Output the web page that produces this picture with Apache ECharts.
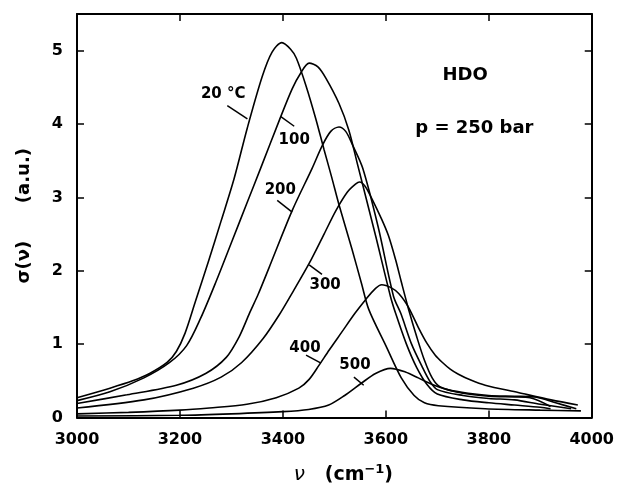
<!DOCTYPE html>
<html>
<head>
<meta charset="utf-8">
<script src="https://cdn.jsdelivr.net/npm/echarts@6/dist/echarts.min.js"></script>
<style>html,body{margin:0;padding:0;background:#fff}#c{width:617px;height:490px}</style>
</head>
<body>
<div id="c"></div>
<script>
// ---- data (wavenumber cm^-1, sigma a.u.) ----
const xTicks = [3000, 3200, 3400, 3600, 3800, 4000];
const yTicks = [0, 1, 2, 3, 4, 5];

const curve20 = [[3000,0.27],[3064,0.40],[3108,0.50],[3141,0.60],[3175,0.75],[3193,0.90],[3210,1.15],[3230,1.58],[3255,2.12],[3280,2.68],[3305,3.25],[3331,3.95],[3360,4.65],[3379,4.98],[3398,5.11],[3415,5.02],[3426,4.90],[3445,4.52],[3464,4.07],[3480,3.65],[3495,3.27],[3509,2.90],[3534,2.30],[3553,1.82],[3567,1.47],[3600,0.98],[3630,0.54],[3655,0.30],[3675,0.20],[3702,0.16],[3793,0.12],[3900,0.10],[3979,0.09]];
const curve100 = [[3000,0.23],[3064,0.35],[3130,0.54],[3180,0.75],[3213,0.98],[3240,1.35],[3270,1.85],[3302,2.42],[3330,2.92],[3358,3.42],[3393,4.05],[3418,4.48],[3435,4.70],[3451,4.83],[3468,4.78],[3484,4.62],[3509,4.28],[3528,3.92],[3545,3.45],[3580,2.48],[3609,1.65],[3619,1.42],[3640,1.00],[3660,0.68],[3680,0.45],[3700,0.32],[3750,0.24],[3800,0.20],[3850,0.17],[3900,0.14],[3920,0.12]];
const curve200 = [[3000,0.19],[3097,0.31],[3193,0.44],[3250,0.60],[3290,0.82],[3315,1.10],[3335,1.42],[3352,1.68],[3373,2.04],[3418,2.82],[3457,3.40],[3476,3.70],[3493,3.90],[3509,3.96],[3522,3.90],[3535,3.72],[3555,3.40],[3585,2.60],[3615,1.65],[3629,1.42],[3650,1.00],[3670,0.70],[3685,0.50],[3700,0.38],[3750,0.30],[3800,0.26],[3850,0.24],[3900,0.18],[3960,0.12]];
const curve300 = [[3000,0.13],[3130,0.24],[3226,0.40],[3280,0.55],[3320,0.75],[3362,1.08],[3393,1.40],[3420,1.72],[3451,2.10],[3480,2.50],[3503,2.82],[3525,3.07],[3541,3.18],[3549,3.21],[3560,3.15],[3573,2.98],[3592,2.70],[3605,2.48],[3619,2.15],[3630,1.85],[3644,1.48],[3660,1.10],[3675,0.78],[3690,0.54],[3705,0.42],[3750,0.33],[3800,0.29],[3850,0.28],[3880,0.27],[3920,0.15]];
const curve400 = [[3000,0.05],[3100,0.07],[3200,0.10],[3257,0.13],[3330,0.18],[3387,0.27],[3431,0.40],[3451,0.52],[3470,0.71],[3490,0.92],[3514,1.16],[3540,1.42],[3561,1.61],[3580,1.76],[3592,1.81],[3610,1.77],[3625,1.69],[3640,1.55],[3650,1.42],[3663,1.23],[3680,1.01],[3696,0.85],[3710,0.75],[3725,0.66],[3741,0.59],[3765,0.51],[3793,0.44],[3857,0.34],[3921,0.24],[3973,0.17]];
const curve500 = [[3000,0.02],[3200,0.03],[3300,0.05],[3400,0.08],[3450,0.11],[3489,0.17],[3520,0.30],[3553,0.47],[3580,0.60],[3609,0.67],[3638,0.62],[3663,0.54],[3690,0.45],[3720,0.38],[3760,0.33],[3800,0.30],[3850,0.29],[3890,0.28],[3930,0.20],[3970,0.12]];

const curves = [curve20, curve100, curve200, curve300, curve400, curve500];
const curveLabels = ['20 °C', '100', '200', '300', '400', '500'];
const labelPos = [[3284,4.41],[3422,3.78],[3395,3.10],[3482,1.81],[3443,0.95],[3540,0.71]];
const pointers = [
  [[3292,4.25],[3331,4.07]],
  [[3396,4.10],[3422,3.97]],
  [[3389,2.96],[3418,2.80]],
  [[3451,2.08],[3476,1.95]],
  [[3445,0.85],[3474,0.74]],
  [[3538,0.55],[3557,0.44]]
];
const notes = [{text:'HDO', pos:[3754,4.66]}, {text:'p = 250 bar', pos:[3772,3.94]}];

// ---- chart ----
const FONT = 'DejaVu Sans';
const chart = echarts.init(document.getElementById('c'));
const series = [];
curves.forEach((d, i) => series.push({
  type:'line', data:d, smooth:0.3, showSymbol:false, silent:true,
  lineStyle:{color:'#000', width:1.6}, xAxisIndex:0, yAxisIndex:0, z:3
}));
pointers.forEach(p => series.push({
  type:'line', data:p, showSymbol:false, silent:true,
  lineStyle:{color:'#000', width:1.5}, xAxisIndex:0, yAxisIndex:0
}));
const txt = (size) => ({show:true, position:'inside', formatter:p=>p.name, color:'#000', opacity:1,
  textBorderWidth:0, textBorderColor:'transparent', textShadowBlur:0,
  fontFamily:FONT, fontWeight:'bold', fontSize:size});
series.push({
  type:'scatter', symbolSize:0, silent:true, xAxisIndex:0, yAxisIndex:0,
  itemStyle:{color:'#000', opacity:1},
  data: curveLabels.map((t,i)=>({name:t, value:labelPos[i]})),
  label:txt(15)
});
series.push({
  type:'scatter', symbolSize:0, silent:true, xAxisIndex:0, yAxisIndex:0,
  itemStyle:{color:'#000', opacity:1},
  data: notes.map(n=>({name:n.text, value:n.pos})),
  label:txt(18)
});

const tickStyle = {show:true, inside:true, length:7, lineStyle:{color:'#000', width:1.5}};
const lineStyle = {show:true, onZero:false, lineStyle:{color:'#000', width:2}};
const xMin = xTicks[0], xMax = xTicks[xTicks.length-1];

chart.setOption({
  backgroundColor:'#fff',
  animation:false,
  grid:{left:77, right:23, top:14, bottom:67},
  xAxis:[{
    type:'value', min:xMin, max:xMax, interval:200, position:'bottom',
    axisLine:lineStyle, axisTick:tickStyle, splitLine:{show:false},
    axisLabel:{color:'#000', fontFamily:FONT, fontWeight:'bold', fontSize:16, margin:14,
      formatter:v => String(v)},
    name:'{n|ν}{a|   (cm}{s|−1}{a|)}', nameLocation:'middle', nameGap:46,
    nameTextStyle:{padding:[0,0,0,18], rich:{
      n:{fontFamily:FONT, fontStyle:'italic', fontSize:20, color:'#000'},
      a:{fontFamily:FONT, fontWeight:'bold', fontSize:19, color:'#000'},
      s:{fontFamily:FONT, fontWeight:'bold', fontSize:13, color:'#000', verticalAlign:'top', padding:[0,0,10,0]}
    }}
  },{
    type:'value', min:xMin, max:xMax, interval:200, position:'top',
    axisLine:lineStyle, axisTick:tickStyle, splitLine:{show:false}, axisLabel:{show:false}
  }],
  yAxis:[{
    type:'value', min:0, max:5.5, interval:1, position:'left',
    axisLine:lineStyle, axisTick:tickStyle, splitLine:{show:false},
    axisLabel:{color:'#000', fontFamily:FONT, fontWeight:'bold', fontSize:16, margin:14, showMaxLabel:false,
      formatter:v => (yTicks.indexOf(v) >= 0 ? String(v) : '')},
    name:'σ(ν)      (a.u.)', nameLocation:'middle', nameRotate:90, nameGap:44,
    nameTextStyle:{color:'#000', fontFamily:FONT, fontWeight:'bold', fontSize:18}
  },{
    type:'value', min:0, max:5.5, interval:1, position:'right',
    axisLine:lineStyle, axisTick:tickStyle, splitLine:{show:false}, axisLabel:{show:false}
  }],
  series: series
});
</script>
</body>
</html>
